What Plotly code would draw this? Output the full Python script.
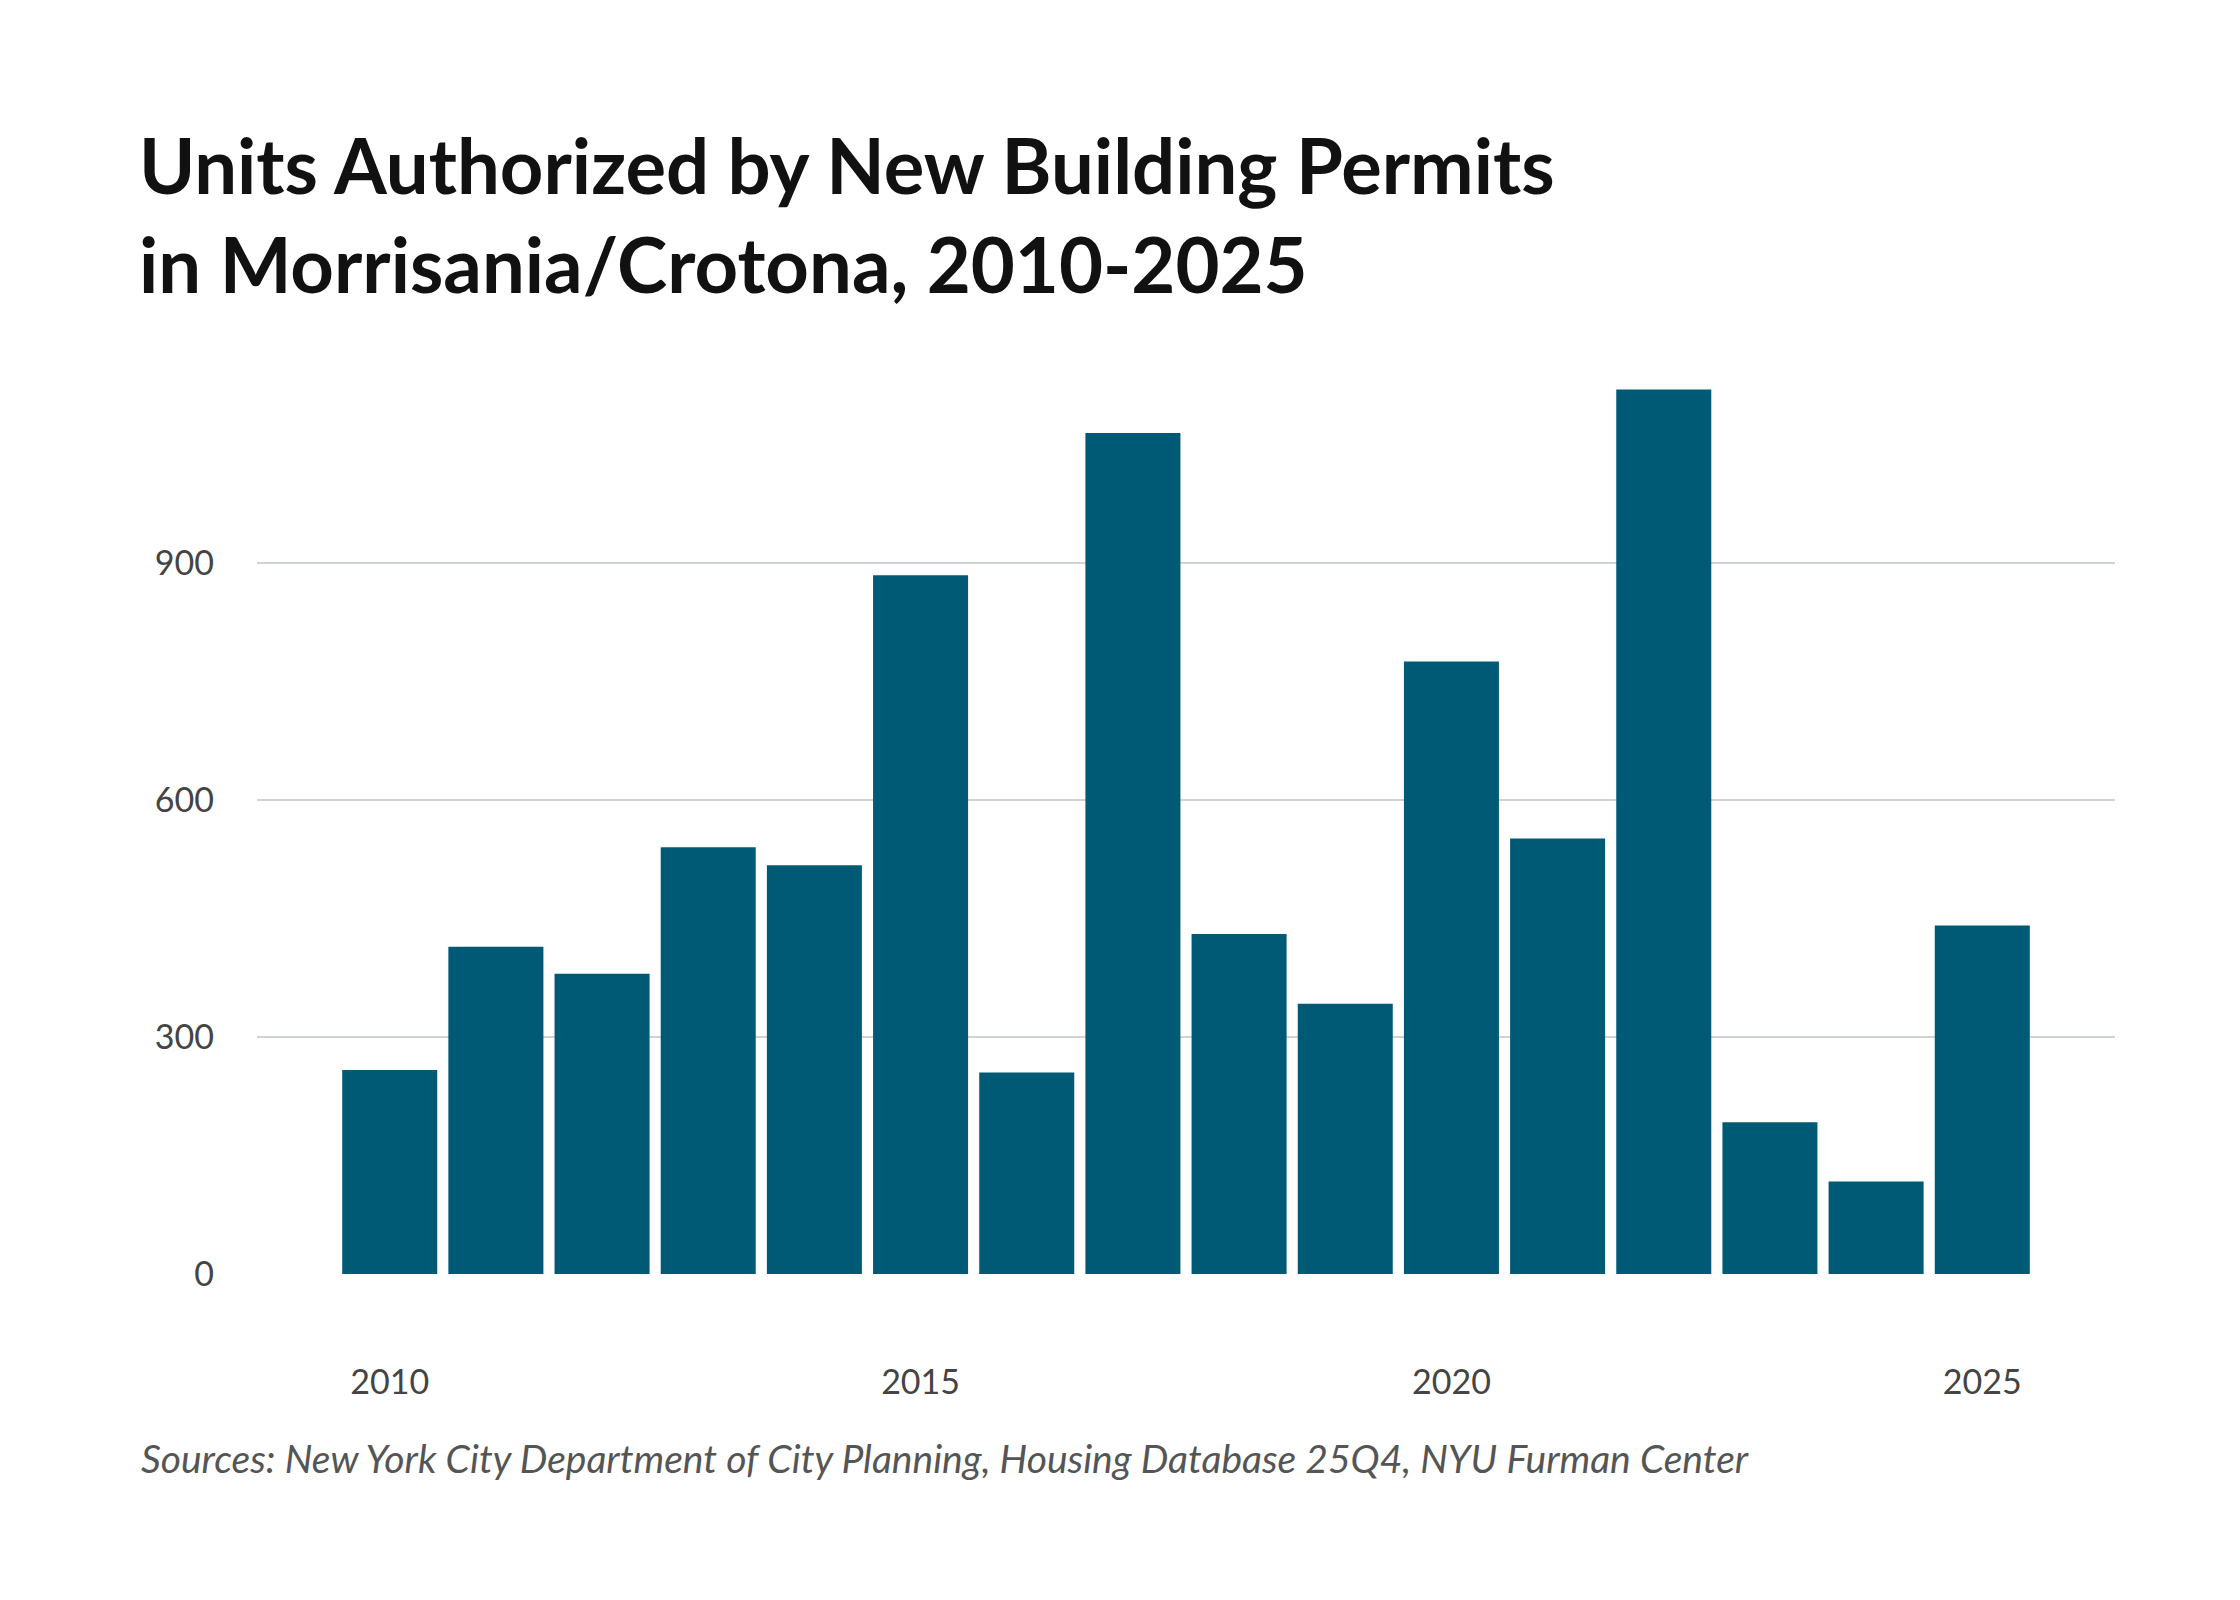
import plotly.graph_objects as go

years = list(range(2010, 2026))
units = [258, 414, 380, 540, 517, 884, 255, 1064, 430, 342, 775, 551, 1119, 192, 117, 441]
y_ticks = [0, 300, 600, 900]
x_ticks = [2010, 2015, 2020, 2025]

title_text = "Units Authorized by New Building Permits<br>in Morrisania/Crotona, 2010-2025"
source_text = "Sources: New York City Department of City Planning, Housing Database 25Q4, NYU Furman Center"

W, H = 2240, 1600
# plot area edges in pixels
left, right = 249, 2107
top, bottom = 357, 1266

fig = go.Figure()

fig.add_trace(go.Bar(
    x=years,
    y=units,
    marker=dict(color="#005a75", line=dict(width=0)),
    hoverinfo="x+y",
    showlegend=False
))

fig.update_layout(
    width=W, height=H,
    margin=dict(l=left, r=W - right, t=top, b=H - bottom),
    paper_bgcolor="white",
    plot_bgcolor="white",
    bargap=0.105,
    font=dict(family="Lato, sans-serif", color="#555555"),
    title=dict(
        text=title_text,
        x=131 / W, xref="container", xanchor="left",
        y=1 - 186 / H, yref="container", yanchor="middle",
        font=dict(family="Lato, sans-serif", size=76, color="#111111", weight=700),
    ),
    xaxis=dict(
        range=[2008.75, 2026.25],
        tickvals=x_ticks,
        ticktext=[str(v) for v in x_ticks],
        showgrid=False, zeroline=False, showline=False,
        ticks="",
        tickfont=dict(size=34, color="#444444"),
        ticklabelstandoff=85,
    ),
    yaxis=dict(
        range=[0, 1150],
        tickvals=y_ticks,
        showgrid=True, gridcolor="#d0d3d6", gridwidth=2,
        zeroline=False, showline=False,
        ticks="",
        tickfont=dict(size=34, color="#444444"),
        ticklabelstandoff=42,
    ),
    annotations=[dict(
        text=source_text,
        xref="paper", yref="paper",
        x=(131 - left) / (right - left),
        y=(bottom - 1450) / (bottom - top),
        xanchor="left", yanchor="middle",
        showarrow=False,
        font=dict(family="Lato, sans-serif", size=39, color="#555555", style="italic"),
    )],
)

fig.write_html("out.html")
